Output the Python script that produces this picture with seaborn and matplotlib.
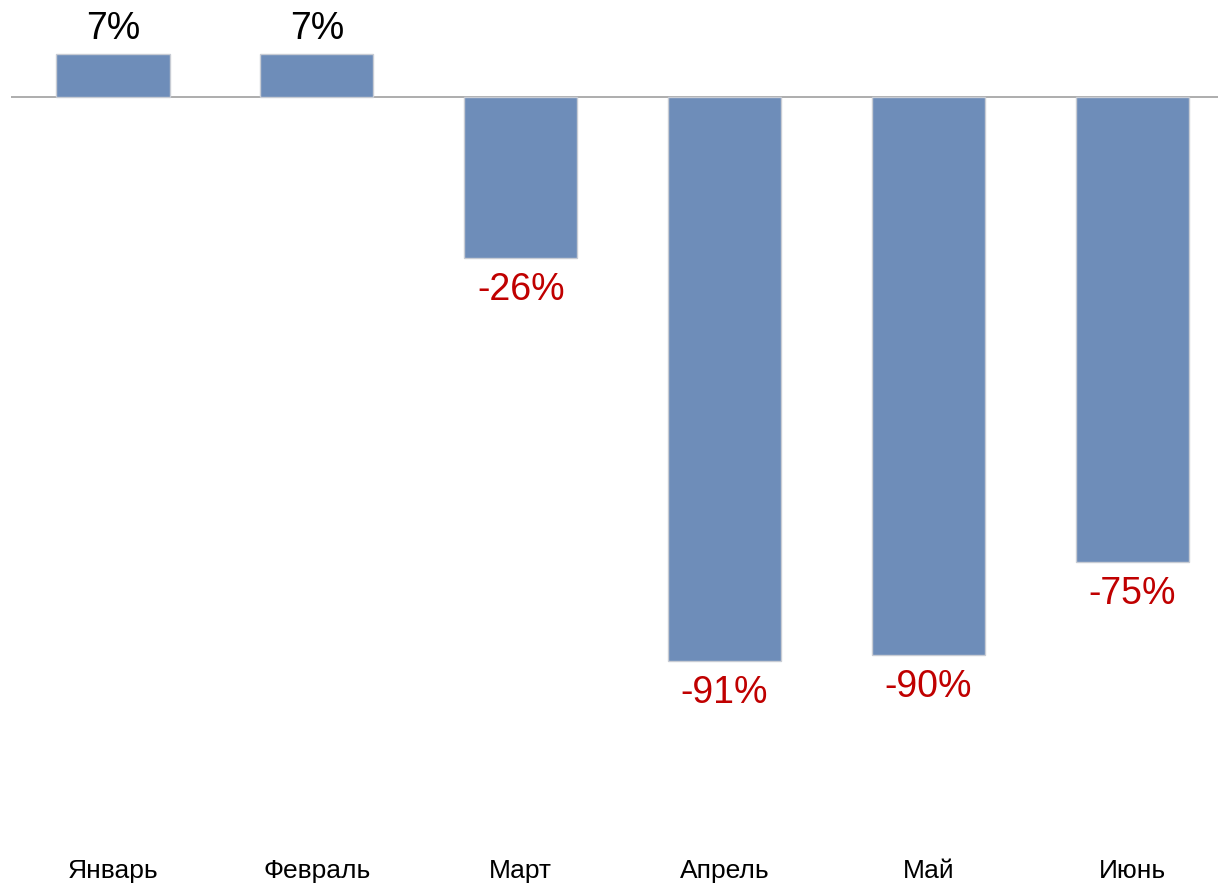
import seaborn as sns
import matplotlib.pyplot as plt
import pandas as pd

# Данные
months = ['Январь', 'Февраль', 'Март', 'Апрель', 'Май', 'Июнь']
change = [7, 7, -26, -91, -90, -75]

df = pd.DataFrame({'month': months, 'change': change})

sns.set_style('white')
plt.rcParams['font.family'] = ['Liberation Sans', 'DejaVu Sans']

fig = plt.figure(figsize=(12.18, 8.83), dpi=100)
ax = fig.add_axes([11 / 1218, 1 - 840 / 883, 1 - 11 / 1218, 840 / 883])

sns.barplot(data=df, x='month', y='change', color='#6E8DB9', saturation=1,
            width=0.555, edgecolor='#C8CCD4', linewidth=1, ax=ax)

ax.axhline(0, color='#A0A0A0', linewidth=1.2, zorder=0.5)
ax.set_xlim(-0.5, 5.42)
ax.set_ylim(-119.8, 15.65)

for i, v in enumerate(change):
    if v >= 0:
        ax.annotate(f'{v}%', (i, v), xytext=(0, 18), textcoords='offset points',
                    ha='center', va='center', fontsize=27, color='black')
    else:
        ax.annotate(f'{v}%', (i, v), xytext=(0, -23), textcoords='offset points',
                    ha='center', va='center', fontsize=27, color='#C00000')

ax.set_xlabel('')
ax.set_ylabel('')
ax.set_yticks([])
ax.tick_params(axis='x', length=0, pad=14, labelsize=19, labelcolor='black')
sns.despine(ax=ax, left=True, bottom=True)

fig.savefig('out.png', dpi=100)
